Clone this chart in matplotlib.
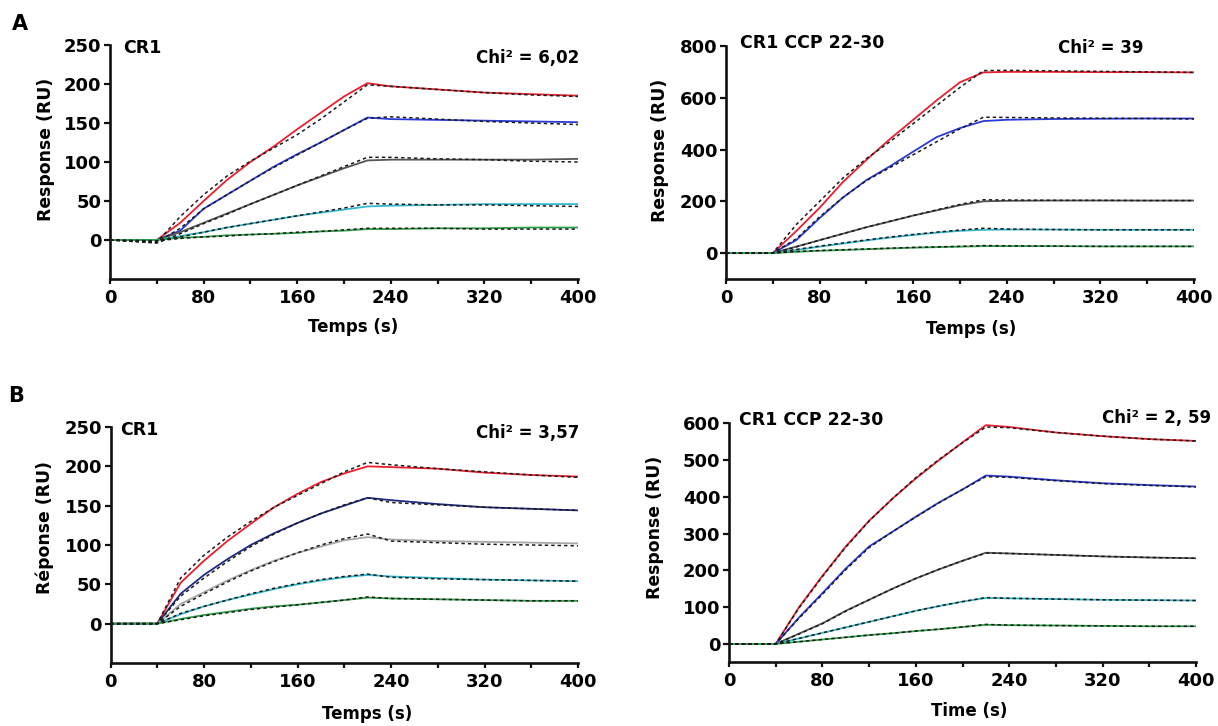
import matplotlib
matplotlib.use("Agg")
import matplotlib.pyplot as plt

W, H = 1218, 726

T = [0, 40, 60, 80, 100, 120, 140, 160, 180, 200, 220, 240, 280, 320, 360, 400]

# Panel A left: CR1
a1_red   = [0, 0, 22, 50, 77, 100, 120, 142, 163, 184, 201, 197, 193, 189, 187, 185]
a1_red_f = [0, -3, 30, 58, 82, 101, 118, 135, 155, 177, 199, 197, 193, 189, 186, 184]
a1_blu   = [0, 0, 12, 40, 58, 76, 94, 110, 125, 141, 157, 155, 154, 153, 152, 151]
a1_blu_f = [0, -3, 15, 40, 58, 76, 93, 109, 125, 141, 156, 158, 155, 152, 150, 148]
a1_gry   = [0, 0, 10, 22, 34, 46, 58, 70, 81, 92, 102, 103, 103, 103, 103, 104]
a1_gry_f = [0, -4, 8, 21, 33, 46, 58, 70, 82, 94, 106, 106, 104, 103, 101, 100]
a1_cyn   = [0, 0, 5, 10, 16, 21, 26, 31, 35, 39, 43, 44, 45, 46, 46, 46]
a1_cyn_f = [0, -2, 4, 10, 16, 21, 26, 31, 36, 41, 47, 46, 45, 45, 44, 43]
a1_grn   = [0, 0, 3, 4, 6, 7, 8, 9, 11, 12, 14, 14, 15, 15, 16, 16]
a1_grn_f = [0, -1, 2, 4, 5, 7, 8, 10, 11, 13, 15, 15, 15, 14, 14, 14]

# Panel A right: CR1 CCP 22-30
a2_red   = [0, 0, 85, 175, 275, 360, 440, 515, 590, 660, 698, 700, 700, 699, 699, 698]
a2_red_f = [0, 0, 110, 200, 290, 365, 430, 500, 570, 640, 705, 706, 704, 702, 700, 698]
a2_blu   = [0, 0, 50, 135, 215, 282, 335, 392, 448, 483, 510, 515, 518, 519, 520, 520]
a2_blu_f = [0, 0, 55, 140, 215, 280, 330, 380, 430, 480, 525, 524, 522, 521, 520, 518]
a2_gry   = [0, 0, 25, 50, 75, 100, 122, 145, 165, 185, 200, 202, 203, 203, 203, 203]
a2_gry_f = [0, 0, 24, 50, 75, 100, 123, 145, 167, 188, 206, 205, 204, 204, 203, 203]
a2_cyn   = [0, 0, 12, 25, 37, 49, 60, 70, 79, 86, 90, 91, 91, 90, 90, 90]
a2_cyn_f = [0, 0, 14, 27, 39, 51, 62, 72, 81, 89, 96, 93, 91, 90, 90, 90]
a2_grn   = [0, 0, 5, 9, 12, 15, 18, 21, 23, 25, 27, 27, 27, 26, 26, 26]
a2_grn_f = [0, 0, 6, 10, 13, 16, 19, 22, 24, 26, 29, 28, 27, 26, 26, 26]

# Panel B left: CR1
b1_red   = [0, 0, 52, 80, 105, 127, 148, 165, 180, 191, 200, 199, 197, 192, 189, 187]
b1_red_f = [0, 0, 58, 87, 110, 130, 148, 163, 178, 193, 205, 202, 197, 193, 189, 186]
b1_blu   = [0, 0, 38, 62, 82, 100, 115, 128, 140, 150, 160, 157, 152, 148, 146, 144]
b1_blu_f = [0, 0, 35, 58, 79, 98, 114, 128, 140, 151, 160, 154, 151, 148, 146, 144]
b1_gry   = [0, 0, 25, 40, 55, 68, 80, 90, 98, 106, 110, 107, 105, 104, 103, 102]
b1_gry_f = [0, 0, 22, 38, 53, 67, 79, 90, 100, 108, 114, 105, 103, 101, 100, 99]
b1_cyn   = [0, 0, 12, 22, 30, 37, 44, 50, 55, 59, 62, 60, 58, 56, 55, 54]
b1_cyn_f = [0, 0, 13, 22, 30, 38, 45, 51, 56, 60, 63, 59, 57, 56, 55, 54]
b1_grn   = [0, 0, 6, 11, 15, 19, 22, 24, 27, 30, 33, 32, 31, 30, 29, 29]
b1_grn_f = [0, 0, 5, 10, 14, 18, 21, 24, 27, 30, 34, 32, 31, 30, 29, 29]

# Panel B right: CR1 CCP 22-30
b2_red   = [0, 0, 100, 185, 265, 335, 395, 450, 500, 548, 595, 590, 575, 565, 557, 552]
b2_red_f = [0, 0, 98, 183, 263, 334, 395, 452, 502, 547, 590, 588, 575, 565, 557, 552]
b2_blu   = [0, 0, 72, 138, 205, 265, 305, 346, 385, 420, 458, 455, 445, 437, 432, 428]
b2_blu_f = [0, 0, 70, 135, 202, 262, 305, 345, 384, 420, 455, 453, 444, 436, 431, 427]
b2_gry   = [0, 0, 28, 56, 90, 120, 150, 178, 203, 226, 248, 246, 242, 238, 235, 233]
b2_gry_f = [0, 0, 27, 55, 89, 120, 150, 178, 203, 226, 247, 246, 242, 238, 235, 233]
b2_cyn   = [0, 0, 15, 30, 45, 60, 75, 90, 103, 115, 125, 124, 122, 120, 119, 118]
b2_cyn_f = [0, 0, 15, 30, 45, 60, 75, 90, 103, 115, 126, 124, 122, 120, 119, 118]
b2_grn   = [0, 0, 6, 12, 18, 24, 29, 35, 40, 46, 52, 51, 50, 49, 48, 48]
b2_grn_f = [0, 0, 6, 12, 18, 24, 29, 35, 40, 46, 53, 51, 50, 49, 48, 48]

x_ticks = [0, 40, 80, 120, 160, 200, 240, 280, 320, 360, 400]
x_labels = ["0", "", "80", "", "160", "", "240", "", "320", "", "400"]

RED = "#e8202e"
BLUE = "#2a3ad6"
NAVY = "#1d2a80"
GRAY = "#555555"
LGRAY = "#a8a8a8"
CYAN = "#33b8cc"
GREEN = "#2fa24a"
FIT = "#1a1a1a"

fig = plt.figure(figsize=(W / 100, H / 100), dpi=100)
FONT = "DejaVu Sans"


def px(x, y):
    return x / W, 1 - y / H


def make_ax(l, t, r, b):
    x0, y1 = px(l, t)
    x1, y0 = px(r, b)
    return fig.add_axes([x0, y0, x1 - x0, y1 - y0])


panels = [
    dict(box=(110, 45, 578, 279), ylim=(-50, 250), yt=[0, 50, 100, 150, 200, 250],
         series=[(a1_red, a1_red_f, RED), (a1_blu, a1_blu_f, BLUE), (a1_gry, a1_gry_f, GRAY),
                 (a1_cyn, a1_cyn_f, CYAN), (a1_grn, a1_grn_f, GREEN)],
         title="CR1", tpos=(123, 53), chi="Chi² = 6,02", cpos=(579, 62.5),
         xl="Temps (s)", xlpos=(353, 332), yl="Response (RU)", ylpos=(46, 149)),
    dict(box=(726, 46, 1194, 279), ylim=(-100, 800), yt=[0, 200, 400, 600, 800],
         series=[(a2_red, a2_red_f, RED), (a2_blu, a2_blu_f, BLUE), (a2_gry, a2_gry_f, GRAY),
                 (a2_cyn, a2_cyn_f, CYAN), (a2_grn, a2_grn_f, GREEN)],
         title="CR1 CCP 22-30", tpos=(740, 48.5), chi="Chi² = 39", cpos=(1144, 53),
         xl="Temps (s)", xlpos=(971, 334), yl="Response (RU)", ylpos=(660, 150)),
    dict(box=(110.5, 427, 578, 663), ylim=(-50, 250), yt=[0, 50, 100, 150, 200, 250],
         series=[(b1_red, b1_red_f, RED), (b1_blu, b1_blu_f, NAVY), (b1_gry, b1_gry_f, LGRAY),
                 (b1_cyn, b1_cyn_f, CYAN), (b1_grn, b1_grn_f, GREEN)],
         title="CR1", tpos=(120, 435), chi="Chi² = 3,57", cpos=(579, 438),
         xl="Temps (s)", xlpos=(367, 719), yl="Réponse (RU)", ylpos=(45, 527)),
    dict(box=(729, 423.3, 1196, 662.3), ylim=(-50, 600), yt=[0, 100, 200, 300, 400, 500, 600],
         series=[(b2_red, b2_red_f, RED), (b2_blu, b2_blu_f, BLUE), (b2_gry, b2_gry_f, GRAY),
                 (b2_cyn, b2_cyn_f, CYAN), (b2_grn, b2_grn_f, GREEN)],
         title="CR1 CCP 22-30", tpos=(739, 425), chi="Chi² = 2, 59", cpos=(1211, 423),
         xl="Time (s)", xlpos=(969, 716), yl="Response (RU)", ylpos=(655, 527)),
]

for p in panels:
    ax = make_ax(*p["box"])
    for data, fit, col in p["series"]:
        ax.plot(T, data, color=col, lw=1.3, zorder=2)
        ax.plot(T, fit, color=FIT, lw=1.1, ls=(0, (2.2, 2.0)), zorder=3)
    ax.set_xlim(0, 400)
    ax.set_ylim(*p["ylim"])
    ax.set_xticks(x_ticks)
    ax.set_xticklabels(x_labels)
    ax.set_yticks(p["yt"])
    ax.set_yticklabels([str(v) for v in p["yt"]])
    for s in ("top", "right"):
        ax.spines[s].set_visible(False)
    for s in ("left", "bottom"):
        ax.spines[s].set_linewidth(1.9)
        ax.spines[s].set_color("#111111")
    ax.tick_params(axis="x", direction="out", length=3.8, width=1.6, color="#111111", pad=3.5)
    ax.tick_params(axis="y", direction="out", length=4.6, width=1.6, color="#111111", pad=1.5)
    for lab in ax.get_xticklabels() + ax.get_yticklabels():
        lab.set_fontfamily(FONT)
        lab.set_fontweight("bold")
        lab.set_fontsize(13)
    ax.patch.set_alpha(0)
    fx, fy = px(*p["tpos"])
    fig.text(fx, fy, p["title"], ha="left", va="baseline", fontsize=12.5,
             fontweight="bold", family=FONT)
    fx, fy = px(*p["cpos"])
    fig.text(fx, fy, p["chi"], ha="right", va="baseline", fontsize=12,
             fontweight="bold", family=FONT)
    fx, fy = px(*p["xlpos"])
    fig.text(fx, fy, p["xl"], ha="center", va="baseline", fontsize=12,
             fontweight="bold", family=FONT)
    fx, fy = px(*p["ylpos"])
    fig.text(fx, fy, p["yl"], ha="center", va="center", fontsize=12.4,
             fontweight="bold", family=FONT, rotation=90)

fx, fy = px(19.5, 24)
fig.text(fx, fy, "A", ha="center", va="center", fontsize=15, fontweight="bold", family=FONT)
fx, fy = px(16, 396)
fig.text(fx, fy, "B", ha="center", va="center", fontsize=15, fontweight="bold", family=FONT)

fig.savefig("out.png", dpi=100, facecolor="white")
